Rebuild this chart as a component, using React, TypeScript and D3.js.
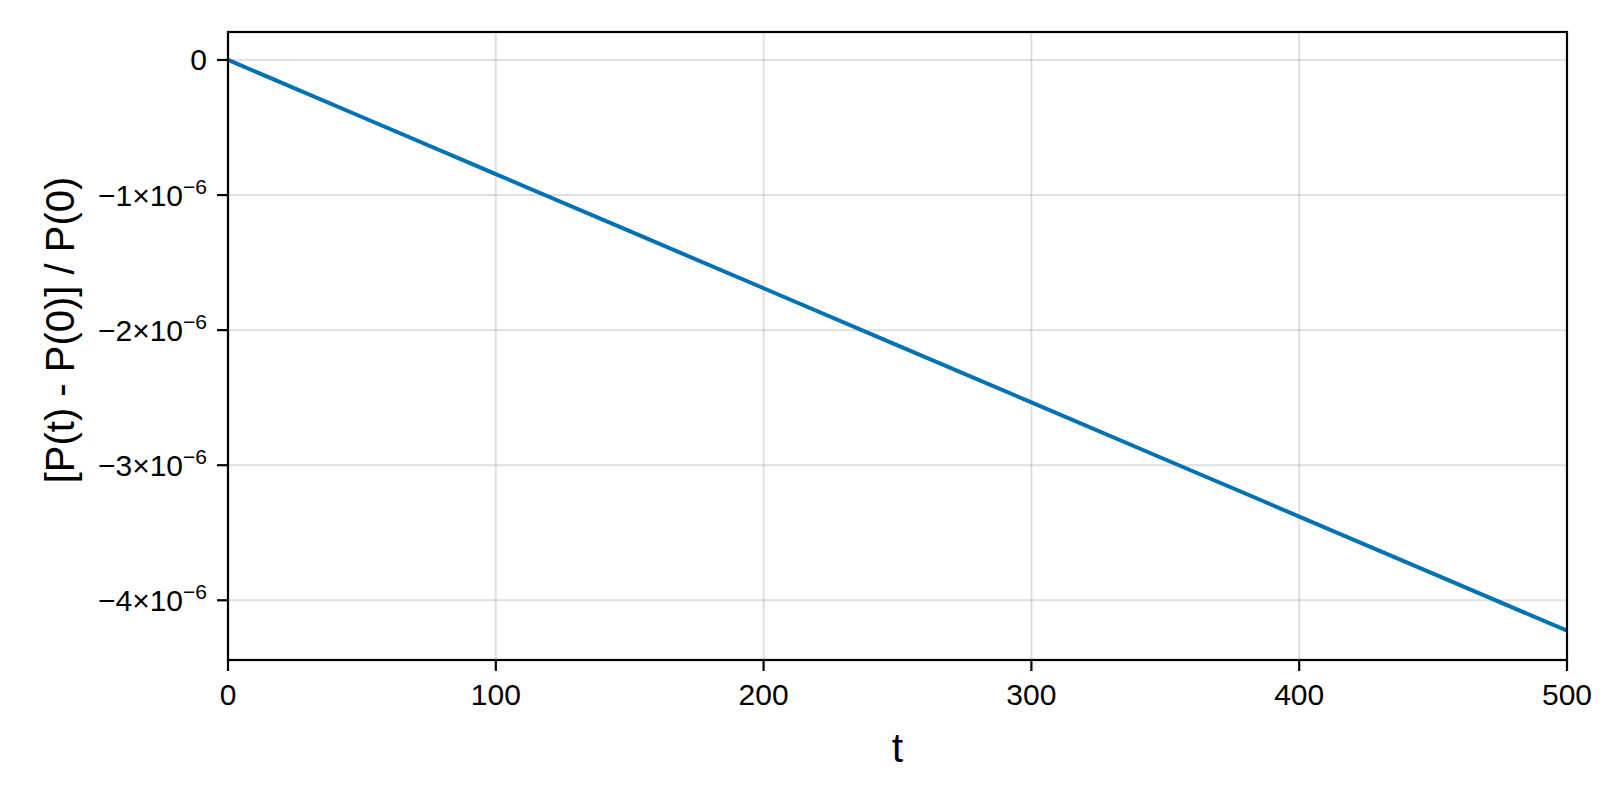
// Relative change of P over time — single line chart
import React, { useEffect, useRef } from "react";
import * as d3 from "d3";

const tValues = [0, 50, 100, 150, 200, 250, 300, 350, 400, 450, 500];
const relChange = [
  0, -0.4225e-6, -0.845e-6, -1.2675e-6, -1.69e-6, -2.1125e-6,
  -2.535e-6, -2.9575e-6, -3.38e-6, -3.8025e-6, -4.225e-6,
];
const xTicks = [0, 100, 200, 300, 400, 500];
const yTicks = [0, -1, -2, -3, -4];

const App: React.FC = () => {
  const svgRef = useRef<SVGSVGElement>(null);

  useEffect(() => {
    if (!svgRef.current) return;
    document.body.style.margin = "0";

    const W = 1600, H = 800;
    const left = 228, right = 1567, top = 32, bottom = 660;

    const svg = d3.select(svgRef.current)
      .attr("width", W)
      .attr("height", H)
      .style("font-family", "'Liberation Sans', Arial, sans-serif");
    svg.selectAll("*").remove();

    const x = d3.scaleLinear().domain([0, 500]).range([left, right]);
    const y = d3.scaleLinear().domain([-4.442e-6, 0.207e-6]).range([bottom, top]);

    svg.append("rect").attr("width", W).attr("height", H).attr("fill", "#fff");

    // Grid
    svg.append("g")
      .selectAll("line")
      .data(xTicks)
      .join("line")
      .attr("x1", d => x(d)).attr("x2", d => x(d))
      .attr("y1", top).attr("y2", bottom)
      .attr("stroke", "rgba(0,0,0,0.12)").attr("stroke-width", 2);
    svg.append("g")
      .selectAll("line")
      .data(yTicks)
      .join("line")
      .attr("x1", left).attr("x2", right)
      .attr("y1", d => y(d * 1e-6)).attr("y2", d => y(d * 1e-6))
      .attr("stroke", "rgba(0,0,0,0.12)").attr("stroke-width", 2);

    // Line
    const line = d3.line<number>()
      .x((_, i) => x(tValues[i]))
      .y(d => y(d));
    svg.append("path")
      .datum(relChange)
      .attr("d", line)
      .attr("fill", "none")
      .attr("stroke", "#0072B2")
      .attr("stroke-width", 4);

    // Frame
    svg.append("rect")
      .attr("x", left).attr("y", top)
      .attr("width", right - left).attr("height", bottom - top)
      .attr("fill", "none").attr("stroke", "#000").attr("stroke-width", 2.2);

    // X axis ticks + labels
    const xg = svg.append("g");
    xg.selectAll("line")
      .data(xTicks)
      .join("line")
      .attr("x1", d => x(d)).attr("x2", d => x(d))
      .attr("y1", bottom).attr("y2", bottom + 11)
      .attr("stroke", "#000").attr("stroke-width", 2.2);
    xg.selectAll("text")
      .data(xTicks)
      .join("text")
      .attr("x", d => x(d)).attr("y", 705)
      .attr("text-anchor", "middle")
      .attr("font-size", 30)
      .text(d => String(d));

    // Y axis ticks + labels
    const yg = svg.append("g");
    yg.selectAll("line")
      .data(yTicks)
      .join("line")
      .attr("x1", left - 11).attr("x2", left)
      .attr("y1", d => y(d * 1e-6)).attr("y2", d => y(d * 1e-6))
      .attr("stroke", "#000").attr("stroke-width", 2.2);
    yTicks.forEach(d => {
      const t = yg.append("text")
        .attr("x", 207).attr("y", y(d * 1e-6) + 10.5)
        .attr("text-anchor", "end")
        .attr("font-size", 30);
      if (d === 0) {
        t.text("0");
      } else {
        t.append("tspan").text(`\u2212${-d}\u00d710`);
        t.append("tspan").attr("font-size", 21).attr("dy", -12).text("\u22126");
      }
    });

    // Axis labels
    svg.append("text")
      .attr("x", (left + right) / 2).attr("y", 762)
      .attr("text-anchor", "middle")
      .attr("font-size", 41)
      .text("t");
    svg.append("text")
      .attr("transform", `translate(74,330) rotate(-90)`)
      .attr("text-anchor", "middle")
      .attr("font-size", 40)
      .text("[P(t) - P(0)] / P(0)");
  }, []);

  return <svg ref={svgRef} style={{ display: "block" }} />;
};

export default App;
